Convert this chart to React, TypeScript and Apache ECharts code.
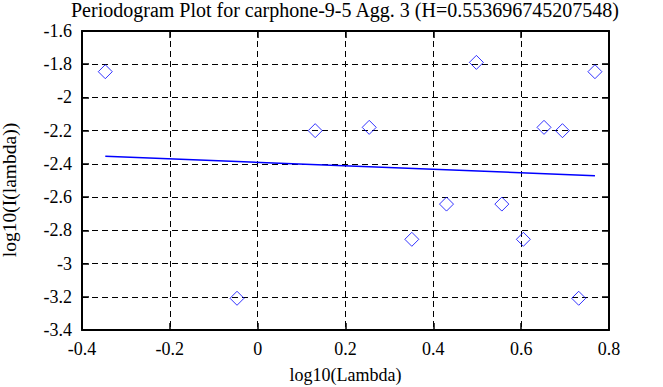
import React, { useEffect, useRef } from "react";
import * as echarts from "echarts";

const TITLE = "Periodogram Plot for carphone-9-5 Agg. 3 (H=0.553696745207548)";
const X_NAME = "log10(Lambda)";
const Y_NAME = "log10(I(lambda))";

const pointX = [-0.347, -0.047, 0.131, 0.254, 0.351, 0.43, 0.498, 0.556, 0.605, 0.652, 0.694, 0.731, 0.768];
const pointY = [-1.845, -3.209, -2.2, -2.18, -2.854, -2.642, -1.789, -2.642, -2.854, -2.18, -2.2, -3.209, -1.845];

const fitX = [-0.347, 0.768];
const fitY = [-2.354, -2.471];

const FONT = "'Liberation Serif', 'DejaVu Serif', serif";

export default function App() {
  const ref = useRef<HTMLDivElement>(null);
  useEffect(() => {
    if (!ref.current) return;
    const chart = echarts.init(ref.current, null, { renderer: "svg" });
    const fmt = (v: number) => String(Number(v.toFixed(1)));
    const axisLine = { show: true, onZero: false, lineStyle: { color: "#000", width: 2 } };
    const tick = { show: true, inside: true, length: 7, lineStyle: { color: "#000", width: 1.5 } };
    const split = { show: true, lineStyle: { color: "#000", width: 1, type: [6, 4] as any } };
    const label = { color: "#000", fontFamily: FONT, fontSize: 18 };
    chart.setOption({
      animation: false,
      backgroundColor: "#fff",
      title: {
        text: TITLE,
        left: 71,
        top: 0,
        padding: 0,
        textStyle: { fontFamily: FONT, fontSize: 20, fontWeight: "normal", color: "#000" },
      },
      grid: { left: 82, right: 54, top: 31, bottom: 57, show: false, containLabel: false, outerBoundsMode: "none" },
      xAxis: [
        {
          type: "value",
          position: "bottom",
          min: -0.4,
          max: 0.8,
          interval: 0.2,
          axisLine,
          axisTick: tick,
          splitLine: split,
          axisLabel: { ...label, margin: 10, formatter: fmt },
          name: X_NAME,
          nameLocation: "middle",
          nameGap: 36,
          nameTextStyle: { ...label },
        },
        {
          type: "value",
          position: "top",
          min: -0.4,
          max: 0.8,
          interval: 0.2,
          axisLine,
          axisTick: tick,
          splitLine: { show: false },
          axisLabel: { show: false },
        },
      ],
      yAxis: [
        {
          type: "value",
          position: "left",
          min: -3.4,
          max: -1.6,
          interval: 0.2,
          axisLine,
          axisTick: tick,
          splitLine: split,
          axisLabel: { ...label, margin: 10, formatter: fmt },
          name: Y_NAME,
          nameLocation: "middle",
          nameGap: 63,
          nameTextStyle: { ...label, fontSize: 19.5, padding: [0, 19, 0, 0] },
        },
        {
          type: "value",
          position: "right",
          min: -3.4,
          max: -1.6,
          interval: 0.2,
          axisLine,
          axisTick: tick,
          splitLine: { show: false },
          axisLabel: { show: false },
        },
      ],
      series: [
        {
          type: "line",
          data: fitX.map((x, i) => [x, fitY[i]]),
          symbol: "none",
          lineStyle: { color: "#0000ff", width: 1.5 },
          z: 3,
        },
        {
          type: "scatter",
          data: pointX.map((x, i) => [x, pointY[i]]),
          symbol: "diamond",
          symbolSize: 14,
          itemStyle: { color: "rgba(0,0,0,0)", borderColor: "#0000ff", borderWidth: 1 },
          z: 4,
        },
      ],
    });
    return () => chart.dispose();
  }, []);
  return (
    <div
      ref={ref}
      style={{ position: "fixed", left: 0, top: 0, width: 663, height: 387, background: "#fff" }}
    />
  );
}
